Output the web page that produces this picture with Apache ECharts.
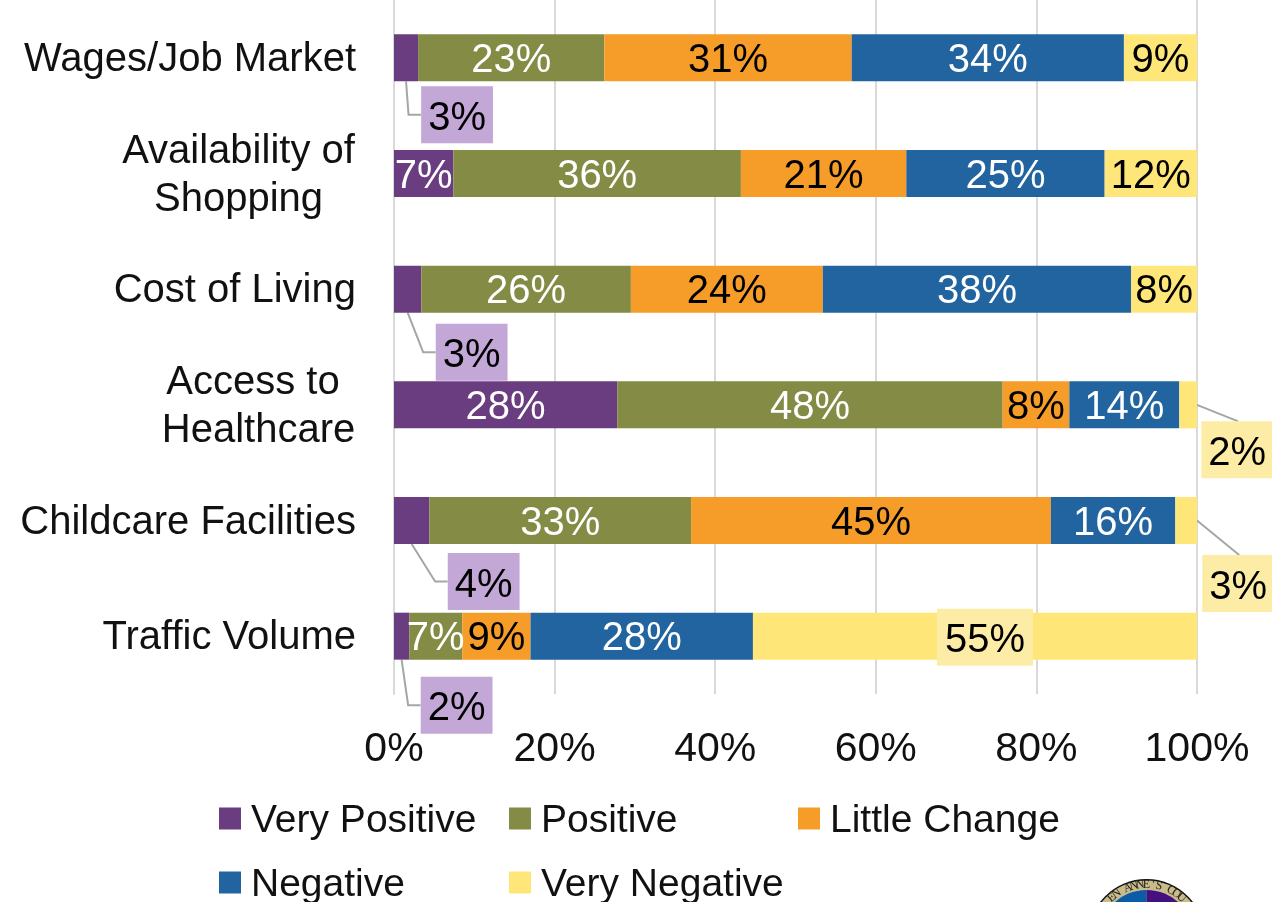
<!DOCTYPE html>
<html><head><meta charset="utf-8">
<style>html,body{margin:0;padding:0;background:#fff;overflow:hidden}#c{width:1272px;height:902px}</style>
<script src="https://cdn.jsdelivr.net/npm/echarts@6/dist/echarts.min.js"></script>
</head><body><div id="c"></div>
<script>
const categories = ['Wages/Job Market','Availability of\nShopping','Cost of Living','Access to \nHealthcare','Childcare Facilities','Traffic Volume'];
const veryPositive = [3.0,7.4,3.4,27.8,4.4,1.9];
const positive = [23.2,35.8,26.1,48.0,32.6,6.6];
const littleChange = [30.8,20.6,23.9,8.3,44.8,8.5];
const negative = [33.9,24.7,38.4,13.7,15.5,27.7];
const veryNegative = [9.1,11.5,8.2,2.2,2.7,55.3];
const ticks = [0,20,40,60,80,100];
// displaced data labels: [row, dx, dy]
const movedVeryPositive = [[0,51,57],[2,64,63],[4,72,61],[5,55,69]];
const movedVeryNegative = [[3,49,45],[4,52,63]];
const tintedVeryNegative = [[5,10,1]];

const FONT = 'Liberation Sans';
const SIZE = 40;
const BAR = 47;
function mk(name, values, color, textColor, tint, moved, tinted){
  const all = moved.concat(tinted);
  return {
    name, type:'bar', stack:'t', barWidth:BAR, z:3, data: values.map((v,i)=>{
      const isMoved = moved.some(m=>m[0]===i), isTint = tinted.some(m=>m[0]===i);
      const d = {value:v};
      if(isMoved||isTint){
        d.label = {color:'#000',backgroundColor:tint,padding:isTint?[9,8,9,8]:[9,7,9,7],
          formatter:p=>'{m|'+Math.round(p.value)+'%}'};
      }
      return d;
    }),
    itemStyle:{color},
    label:{show:true,position:'inside',color:textColor,fontFamily:FONT,fontSize:SIZE,
      formatter:p=>'{t|'+Math.round(p.value)+'%}',
      rich:{t:{padding:[6,0,0,0],lineHeight:39,fontFamily:FONT,fontSize:SIZE},
            m:{padding:[8,0,0,0],lineHeight:39,fontFamily:FONT,fontSize:SIZE}}},
    labelLayout:p=>{
      const m = all.find(a=>a[0]===p.dataIndex);
      return m ? {dx:m[1],dy:m[2]} : {};
    },
    emphasis:{disabled:true}
  };
}
function legend(name,left,top){
  return {data:[name],left,top,itemWidth:22,itemHeight:22,icon:'rect',padding:0,selectedMode:false,
    formatter:'{t|{name}}',
    textStyle:{fontFamily:FONT,fontSize:39,color:'#111',
      rich:{t:{padding:[6,0,0,5],lineHeight:46,fontFamily:FONT,fontSize:39,color:'#111'}}}};
}
// leader lines: each starts at the bar segment, ends at its displaced label
const leaderData = movedVeryPositive.map(m=>[veryPositive[m[0]]/2,m[0],m[1],m[2],0])
  .concat(movedVeryNegative.map(m=>[100-veryNegative[m[0]]/2,m[0],m[1],m[2],1]));
function renderLeader(params,api){
  const c = api.coord([api.value(0),api.value(1)]);
  const dx = api.value(2), dy = api.value(3), kind = api.value(4);
  const lx = c[0]+dx, ly = c[1]+dy;
  let pts;
  if(kind===0){
    pts = [[c[0],c[1]+BAR/2],[lx-36-12.5,ly],[lx-36,ly]];
  } else {
    const e = api.coord([100,api.value(1)]);
    pts = [[e[0],e[1]],[lx+1,ly-28.5]];
  }
  return {type:'polyline',shape:{points:pts},style:{stroke:'#A6A6A6',lineWidth:2,fill:null}};
}
const sealLetters = "EN ANNE'S COU";
const sealCx=1146.5, sealCy=937.5, sealR=53;
const seal = [
 {type:'circle',shape:{cx:sealCx,cy:sealCy,r:58.5},style:{fill:'#111'}},
 {type:'circle',shape:{cx:sealCx,cy:sealCy,r:57},style:{fill:'#C9BC8A'}},
 {type:'sector',shape:{cx:sealCx,cy:sealCy,r:47.5,startAngle:Math.PI/2,endAngle:Math.PI*1.5},style:{fill:'#0B5CA8'}},
 {type:'sector',shape:{cx:sealCx,cy:sealCy,r:47.5,startAngle:-Math.PI/2,endAngle:Math.PI/2},style:{fill:'#44107F'}},
].concat(sealLetters.split('').map((ch,i)=>{
  const a=(i-(sealLetters.length-1)/2)*0.12;
  return {type:'text',x:sealCx+Math.sin(a)*sealR,y:sealCy-Math.cos(a)*sealR,rotation:-a,
    style:{text:ch,fontFamily:'Liberation Serif',fontSize:12,fill:'#222',align:'center',verticalAlign:'middle'}};
}));
const chart = echarts.init(document.getElementById('c'),null,{renderer:'canvas'});
chart.setOption({
  animation:false,
  grid:{left:394,top:-3,width:803,height:697,containLabel:false},
  xAxis:{type:'value',min:0,max:100,interval:20,
    axisLabel:{fontFamily:FONT,fontSize:41,color:'#111',margin:35,formatter:v=>v+'%',hideOverlap:false,alignMinLabel:'center',alignMaxLabel:'center'},
    axisLine:{show:false},axisTick:{show:false},
    splitLine:{show:true,lineStyle:{color:'#D9D9D9',width:2}}},
  yAxis:{type:'category',inverse:true,data:categories,
    axisLine:{show:true,lineStyle:{color:'#D9D9D9',width:2}},axisTick:{show:false},
    axisLabel:{margin:38,color:'#111',fontFamily:FONT,fontSize:40,lineHeight:48,interval:0,padding:[4,0,0,0],
      formatter:v=>{
        const lines=v.split('\n');
        if(lines.length===1) return v;
        const k = lines[0].startsWith('Avail')?'w':'n';
        return lines.map(l=>'{'+k+'|'+l+'}').join('\n');
      },
      rich:{w:{width:235,align:'center',fontFamily:FONT,fontSize:40,lineHeight:48,color:'#111'},
            n:{width:195,align:'center',fontFamily:FONT,fontSize:40,lineHeight:48,color:'#111'}}}},
  legend:[legend('Very Positive',219,796),legend('Positive',509,796),legend('Little Change',798,796),
          legend('Negative',219,860),legend('Very Negative',509,860)],
  series:[
    mk('Very Positive',veryPositive,'#693D7F','#fff','#C3A7D6',movedVeryPositive,[]),
    mk('Positive',positive,'#838B45','#fff','#fff',[],[]),
    mk('Little Change',littleChange,'#F69C28','#000','#fff',[],[]),
    mk('Negative',negative,'#21649F','#fff','#fff',[],[]),
    mk('Very Negative',veryNegative,'#FEE778','#000','#FDECA6',movedVeryNegative,tintedVeryNegative),
    {type:'custom',name:'leaders',renderItem:renderLeader,data:leaderData,encode:{x:0,y:1},z:2,silent:true,clip:false}
  ],
  graphic:seal
});
</script></body></html>
